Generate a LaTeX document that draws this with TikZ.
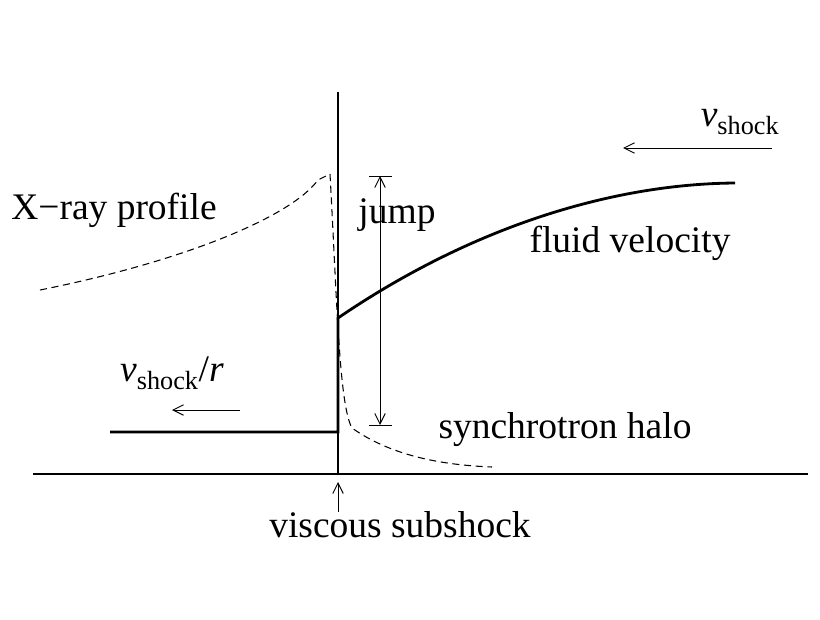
\documentclass[tikz,border=0pt]{standalone}
\usepackage{fontspec}
\setmainfont{Liberation Serif}
\usetikzlibrary{arrows.meta}
\tikzset{
	lbl/.style = {inner sep=0pt, font=\fontsize{32}{38}\selectfont},
	flow/.style = {line width=2.4pt},
	prof/.style = {dash pattern=on 6pt off 4pt, line width=0.9pt},
	arr/.style = {-{Straight Barb[length=9pt,width=9pt]}, line width=0.8pt},
}
\begin{document}
\begin{tikzpicture}[x=0.03cm, y=-0.03cm]
		\useasboundingbox (0,0) rectangle (820,619);
		\coordinate (ax-l) at (33,474);
		\coordinate (ax-r) at (808,474);
		\coordinate (sub-top) at (338,92);
		\coordinate (sub-bot) at (338,474);
		\draw[line width=0.9pt] (ax-l) -- (ax-r);
		\draw[line width=0.9pt] (sub-top) -- (sub-bot);

		\node[lbl] (subshock) at (400,525) {viscous subshock};
		\coordinate (sub-arr) at (338,482);
		\draw[arr] (subshock.north -| sub-arr) -- (sub-arr);

		% fluid velocity
		\draw[flow] (110,432) -- (338,432) -- (338,318)
			.. controls (470,228) and (610,184) .. (735,183);
		\node[lbl] (fluid) at (630,243) {fluid velocity};

		% x-ray profile and halo
		\draw[prof] (40,290) .. controls (180,262) and (290,218) .. (318,180)
			-- (330,174) .. controls (337,300) and (339,405) .. (352,428)
			.. controls (390,455) and (440,465) .. (492,467);
		\node[lbl] (xray) at (114,210) {X\symbol{"2212}ray profile};
		\node[lbl] (halo) at (565,430) {synchrotron halo};

		% jump
		\coordinate (j-top) at (380,176);
		\coordinate (j-bot) at (380,425);
		\draw[line width=0.8pt] (369,176) -- (392,176) (369,425) -- (392,425);
		\draw[arr] (380,300) -- (j-top);
		\draw[arr] (380,300) -- (j-bot);
		\node[lbl] (jump) at (397,215) {jump};

		% shock velocities
		\node[lbl] (vs) at (740,122) {\textit{v}\textsubscript{shock}};
		\coordinate (vs-a) at (772,148);
		\coordinate (vs-b) at (623,148);
		\draw[arr] (vs-a) -- (vs-b);
		\node[lbl] (vsr) at (172,373) {\textit{v}\textsubscript{shock}/\textit{r}};
		\coordinate (vsr-a) at (240,410);
		\coordinate (vsr-b) at (172,410);
		\draw[arr] (vsr-a) -- (vsr-b);
	\end{tikzpicture}
\end{document}
